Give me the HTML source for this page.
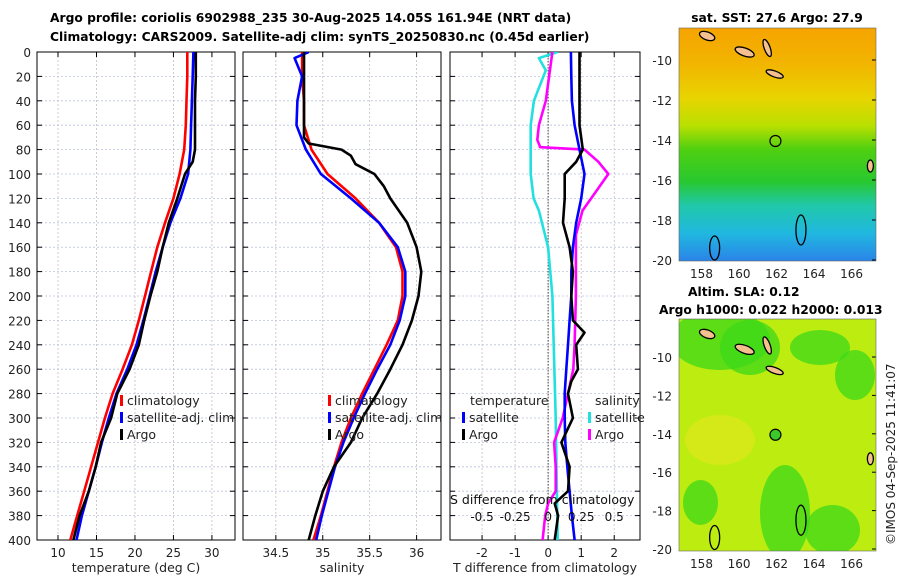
<!DOCTYPE html>
<html><head><meta charset="utf-8">
<style>
body{margin:0;background:#fff;}
svg{display:block;font-family:"DejaVu Sans","Liberation Sans",sans-serif;}
</style></head>
<body>
<svg id="c" width="900" height="580" viewBox="0 0 900 580">
<defs>
<linearGradient id="sst" x1="0" y1="0" x2="0" y2="1">
<stop offset="0" stop-color="#f6a400"/><stop offset="0.15" stop-color="#f2b400"/>
<stop offset="0.3" stop-color="#e8d400"/><stop offset="0.42" stop-color="#b8e000"/>
<stop offset="0.52" stop-color="#50d010"/><stop offset="0.66" stop-color="#28c830"/>
<stop offset="0.76" stop-color="#20c8a8"/><stop offset="0.88" stop-color="#20b8e0"/>
<stop offset="1" stop-color="#2a84e8"/></linearGradient>
<clipPath id="mc2"><rect x="679" y="319" width="197" height="232"/></clipPath>
</defs>
<text x="50" y="22" font-size="12.3" font-weight="bold">Argo profile: coriolis 6902988_235 30-Aug-2025 14.05S 161.94E (NRT data)</text>
<text x="50" y="41" font-size="12.3" font-weight="bold">Climatology: CARS2009. Satellite-adj clim: synTS_20250830.nc (0.45d earlier)</text>
<g id="p1"></g>
<g id="p2"></g>
<g id="p3"></g>
<g id="maps"></g>
</svg>
<script>
const NS="http://www.w3.org/2000/svg";
function el(tag,attrs,parent,txt){const e=document.createElementNS(NS,tag);for(const k in attrs)e.setAttribute(k,attrs[k]);if(txt!==undefined)e.textContent=txt;parent.appendChild(e);return e;}

// ---- data ----
const depths=[0,20,40,60,80,100,120,140,160,180,200,220,240,260,280,300,320,340,360,380,400];
const tempClim=[26.8,26.8,26.7,26.6,26.4,25.8,25.0,23.9,22.9,22.1,21.3,20.5,19.6,18.4,17.1,16.1,15.2,14.3,13.4,12.5,11.6];
const tempSat=[27.6,27.5,27.4,27.3,27.2,26.9,25.9,24.6,23.6,22.7,21.9,21.1,20.2,19.0,17.6,16.6,15.7,14.9,14.0,13.1,12.4];
const tempArgoDepth=[0,20,40,60,80,90,100,120,140,160,180,200,220,240,260,280,300,320,340,360,380,400];
const tempArgo=[27.9,27.9,27.8,27.8,27.8,27.5,26.5,25.5,24.4,23.6,22.9,22.0,21.2,20.5,19.3,17.7,16.9,15.6,14.9,14.0,12.8,12.0];
const salClim=[34.78,34.78,34.8,34.8,34.88,35.05,35.35,35.6,35.78,35.85,35.85,35.8,35.68,35.55,35.42,35.3,35.2,35.12,35.05,34.98,34.9];
const salSatDepth=[0,5,20,40,60,80,100,120,140,160,180,200,220,240,260,280,300,320,340,360,380,400];
const salSat=[34.85,34.7,34.78,34.73,34.72,34.82,34.98,35.3,35.6,35.8,35.88,35.88,35.82,35.72,35.58,35.45,35.33,35.22,35.13,35.06,34.99,34.93];
const salArgoDepth=[0,70,75,80,85,92,100,110,120,140,160,180,200,220,240,260,280,300,320,340,360,380,400];
const salArgo=[34.8,34.8,34.85,35.2,35.3,35.35,35.55,35.65,35.72,35.9,36.0,36.05,36.02,35.95,35.85,35.72,35.58,35.42,35.3,35.12,35.0,34.92,34.85];
const dTempSat=[0.69,0.7,0.72,0.8,0.95,1.1,1.0,0.85,0.75,0.7,0.7,0.65,0.6,0.55,0.5,0.5,0.52,0.58,0.65,0.72,0.8];
const dTempArgoDepth=[0,20,60,80,90,100,120,140,160,180,200,220,230,240,260,270,280,300,320,340,360,370,380,400];
const dTempArgo=[0.95,0.95,0.95,1.05,0.85,0.5,0.5,0.45,0.65,0.75,0.7,0.75,1.1,0.85,0.9,0.7,0.6,0.75,0.4,0.65,0.6,0.2,0.3,0.2];
const dSalSatDepth=[0,5,15,40,60,100,120,130,160,200,300,400];
const dSalSat=[0.072,-0.07,-0.018,-0.108,-0.132,-0.132,-0.11,-0.07,0,0.032,0.057,0.072];
const dSalArgoDepth=[0,40,60,72,78,80,90,100,110,130,150,200,240,260,280,300,320,340,360,370,380,400];
const dSalArgo=[0.032,-0.018,-0.07,-0.082,-0.06,0.275,0.38,0.455,0.39,0.26,0.21,0.21,0.2,0.19,0.15,0.11,0.045,0.057,0.057,0,-0.022,-0.042];

const Y0=52,Y1=540;
function yS(d){return Y0+d/400*(Y1-Y0);}

function panel(g,x0,x1,xmin,xmax,xticks,xlabels,xlabel,clipId){
  const xs=v=>x0+(v-xmin)/(xmax-xmin)*(x1-x0);
  el('rect',{x:x0,y:Y0,width:x1-x0,height:Y1-Y0,fill:'#fff'},g);
  const cp=el('clipPath',{id:clipId},g);el('rect',{x:x0,y:Y0,width:x1-x0,height:Y1-Y0},cp);
  for(let d=20;d<400;d+=20){const l=el('line',{x1:x0,x2:x1,y1:yS(d),y2:yS(d),stroke:'#b8c4dc','stroke-width':0.8,'stroke-dasharray':'2,2'},g);
    
    el('line',{x1:x0,x2:x0+5,y1:yS(d),y2:yS(d),stroke:'#000'},g);el('line',{x1:x1-5,x2:x1,y1:yS(d),y2:yS(d),stroke:'#000'},g);}
  xticks.forEach((t,i)=>{const x=xs(t);
    const l=el('line',{x1:x,x2:x,y1:Y0,y2:Y1,stroke:'#c8bcc4','stroke-width':0.8,'stroke-dasharray':'2,2'},g);
    
    el('line',{x1:x,x2:x,y1:Y1,y2:Y1-5,stroke:'#000'},g);el('line',{x1:x,x2:x,y1:Y0,y2:Y0+5,stroke:'#000'},g);
    const tx=el('text',{x:x,y:Y1+17,'font-size':12,'text-anchor':'middle',fill:'#222'},g,xlabels[i]);
    });
  const r=el('rect',{x:x0,y:Y0,width:x1-x0,height:Y1-Y0,fill:'none',stroke:'#000','stroke-width':1},g);
  
  const xl=el('text',{x:(x0+x1)/2,y:572,'font-size':12.5,'text-anchor':'middle',fill:'#222'},g,xlabel);
  
  return xs;
}
function line(g,xs,vals,ds,color,name,clipId,w){
  const pts=vals.map((v,i)=>xs(v).toFixed(1)+','+yS(ds[i]).toFixed(1)).join(' ');
  const p=el('polyline',{points:pts,fill:'none',stroke:color,'stroke-width':w||2.6,'stroke-linejoin':'round','clip-path':'url(#'+clipId+')'},g);
  
}
function legend(g,x,y,items){
  items.forEach((it,i)=>{const yy=y+i*17;
    el('rect',{x:x,y:yy-10,width:3,height:11,fill:it[1]},g);
    const t=el('text',{x:x+7,y:yy,'font-size':12.5,fill:'#222'},g,it[0]);
    });
}

const svg=document.getElementById('c');
for(let d=0;d<=400;d+=20){const t=el('text',{x:31,y:yS(d)+5,'font-size':12,'text-anchor':'end',fill:'#222'},svg,String(d));
  }

// panel 1
const g1=document.getElementById('p1');
const x1s=panel(g1,37,235,7.27,33,[10,15,20,25,30],['10','15','20','25','30'],'temperature (deg C)','cl1');
line(g1,x1s,tempClim,depths,'#f00','temp-climatology-line','cl1');
line(g1,x1s,tempSat,depths,'#00f','temp-satellite-line','cl1');
line(g1,x1s,tempArgo,tempArgoDepth,'#000','temp-argo-line','cl1');
legend(g1,120,405,[['climatology','#f00'],['satellite-adj. clim','#00f'],['Argo','#000']]);

// panel 2
const g2=document.getElementById('p2');
const x2s=panel(g2,243,441,34.15,36.26,[34.5,35,35.5,36],['34.5','35','35.5','36'],'salinity','cl2');
line(g2,x2s,salClim,depths,'#f00','sal-climatology-line','cl2');
line(g2,x2s,salSat,salSatDepth,'#00f','sal-satellite-line','cl2');
line(g2,x2s,salArgo,salArgoDepth,'#000','sal-argo-line','cl2');
legend(g2,328,405,[['climatology','#f00'],['satellite-adj. clim','#00f'],['Argo','#000']]);

// panel 3
const g3=document.getElementById('p3');
const x3s=panel(g3,450,640,-2.97,2.78,[-2,-1,0,1,2],['-2','-1','0','1','2'],'T difference from climatology','cl3');
el('line',{x1:x3s(0),x2:x3s(0),y1:Y0,y2:Y1,stroke:'#444','stroke-width':1,'stroke-dasharray':'1.5,1.5'},g3);
const sx=v=>x3s(v*4);
line(g3,sx,dSalSat,dSalSatDepth,'#22e0e0','sal-diff-satellite-line','cl3');
line(g3,sx,dSalArgo,dSalArgoDepth,'#f0f','sal-diff-argo-line','cl3');
line(g3,x3s,dTempSat,depths,'#00f','temp-diff-satellite-line','cl3');
line(g3,x3s,dTempArgo,dTempArgoDepth,'#000','temp-diff-argo-line','cl3');
const stxt=el('text',{x:450,y:504,'font-size':12.5,fill:'#111'},g3,'S difference from climatology');

[[-0.5,'-0.5'],[-0.25,'-0.25'],[0,'0'],[0.25,'0.25'],[0.5,'0.5']].forEach(a=>{
  const t=el('text',{x:sx(a[0]),y:521,'font-size':12,'text-anchor':'middle',fill:'#111'},g3,a[1]);
  });
const th=el('text',{x:470,y:405,'font-size':12.5,fill:'#222'},g3,'temperature');
const sh=el('text',{x:595,y:405,'font-size':12.5,fill:'#222'},g3,'salinity');
legend(g3,462,422,[['satellite','#00f'],['Argo','#000']]);
legend(g3,588,422,[['satellite','#22e0e0'],['Argo','#f0f']]);

// maps
const gm=document.getElementById('maps');
function mkmap(y0,y1,lat10y,lat20y){
  const x0=679,x1=876;
  const lx=v=>x0+(v-156.8)/(167.3-156.8)*(x1-x0);
  const ly=v=>lat10y+(-10-v)/10*(lat20y-lat10y);
  return {x0,x1,y0,y1,lx,ly};
}
const m1=mkmap(28,261,60,260);
const m2=mkmap(319,551,357,549);
const bg1=el('rect',{x:679,y:28,width:197,height:233,fill:'url(#sst)'},gm);

const bg2=el('rect',{x:679,y:319,width:197,height:232,fill:'#bcec10'},gm);

const gp=el('g',{'clip-path':'url(#mc2)'},gm);
[[670,310,100,60],[720,320,60,55],[835,350,40,50],[760,465,50,95],[683,480,35,45],[805,505,55,50],[790,330,60,35]].forEach(r=>{
  const e=el('ellipse',{cx:r[0]+r[2]/2,cy:r[1]+r[3]/2,rx:r[2]/2,ry:r[3]/2,fill:'#3cd818',opacity:0.75},gp);
  });
el('ellipse',{cx:720,cy:440,rx:35,ry:25,fill:'#e6e820',opacity:0.6},gp);
function islands(m,oy){
  const isl=[[158.3,-8.8,8,4,20],[160.3,-9.6,10,4,20],[161.5,-9.4,3,9,-20],[161.9,-10.7,9,3,20],[167.0,-15.3,3,6,0]];
  isl.forEach(a=>{const cx=m.lx(a[0]),cy=m.ly(a[1]);const e=el('ellipse',{cx:cx,cy:cy,rx:a[2],ry:a[3],transform:'rotate('+a[4]+' '+cx+' '+cy+')',fill:'#f4c090',stroke:'#000','stroke-width':1.3},gm);
    });
  [[158.7,-19.4,5,12],[163.3,-18.5,5,15]].forEach(a=>{const e=el('ellipse',{cx:m.lx(a[0]),cy:m.ly(a[1]),rx:a[2],ry:a[3],fill:'none',stroke:'#000','stroke-width':1.3},gm);
    });
  [-10,-12,-14,-16,-18,-20].forEach(v=>{const t=el('text',{x:672,y:m.ly(v)+5,'font-size':12,'text-anchor':'end',fill:'#222'},gm,String(v));
    
    el('line',{x1:m.x1-4,x2:m.x1,y1:m.ly(v),y2:m.ly(v),stroke:'#000'},gm);});
  [158,160,162,164,166].forEach(v=>{const t=el('text',{x:m.lx(v),y:m.y1+17,'font-size':12,'text-anchor':'middle',fill:'#222'},gm,String(v));
    });
  const c=el('circle',{cx:m.lx(161.94),cy:m.ly(-14.05),r:5.5,fill:oy,stroke:'#000','stroke-width':1.2},gm);
  
}
islands(m1,'none');
islands(m2,'#3cc828');
el('rect',{x:679,y:28,width:197,height:233,fill:'none',stroke:'#666','stroke-width':0.6},gm);
el('rect',{x:679,y:319,width:197,height:232,fill:'none',stroke:'#666','stroke-width':0.6},gm);
const t1=el('text',{x:777,y:22,'font-size':12.3,'font-weight':'bold','text-anchor':'middle'},gm,'sat. SST: 27.6 Argo: 27.9');

const t2=el('text',{x:688,y:296,'font-size':12.3,'font-weight':'bold'},gm,'Altim. SLA: 0.12');

const t3=el('text',{x:659,y:314,'font-size':12.3,'font-weight':'bold'},gm,'Argo h1000: 0.022 h2000: 0.013');

const cr=el('text',{x:0,y:0,'font-size':12,fill:'#222',transform:'translate(895,545) rotate(-90)'},gm,'©IMOS 04-Sep-2025 11:41:07');

</script>
</body></html>
